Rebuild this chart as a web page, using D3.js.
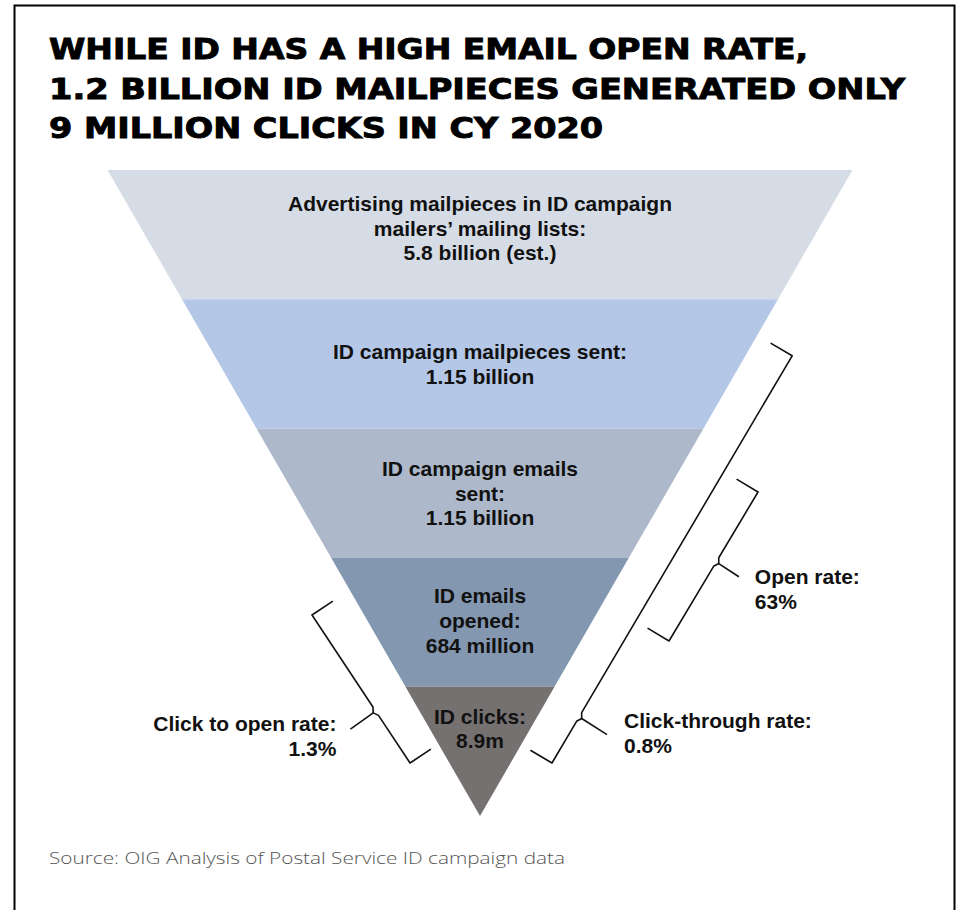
<!DOCTYPE html>
<html>
<head>
<meta charset="utf-8">
<script src="https://cdn.jsdelivr.net/npm/d3@7"></script>
<style>
  body { margin: 0; background: #fff; }
  svg { display: block; }
</style>
</head>
<body>
<svg id="chart" width="961" height="910"></svg>
<script>
// title lines
const titleLines = [
	"WHILE ID HAS A HIGH EMAIL OPEN RATE,",
	"1.2 BILLION ID MAILPIECES GENERATED ONLY",
	"9 MILLION CLICKS IN CY 2020"
];

// funnel stages, top to bottom
const stageNames = [
	["Advertising mailpieces in ID campaign", "mailers’ mailing lists:"],
	["ID campaign mailpieces sent:"],
	["ID campaign emails", "sent:"],
	["ID emails", "opened:"],
	["ID clicks:"]
];
const stageValues = ["5.8 billion (est.)", "1.15 billion", "1.15 billion", "684 million", "8.9m"];
const stageColors = ["#d6dce5", "#b4c7e7", "#adb9ca", "#8497b0", "#767171"];

// rates shown with braces: from stage -> to stage
const rateNames = ["Click-through rate:", "Open rate:", "Click to open rate:"];
const rateValues = ["0.8%", "63%", "1.3%"];
const rateFrom = [1, 2, 3];
const rateTo = [4, 3, 4];
const rateSide = ["right", "right", "left"];

const source = "Source: OIG Analysis of Postal Service ID campaign data";

const svg = d3.select("#chart");

// frame (bottom edge runs off the picture)
svg.append("rect")
	.attr("x", 14.5).attr("y", 5.5)
	.attr("width", 940).attr("height", 1000)
	.attr("fill", "none").attr("stroke", "#000").attr("stroke-width", 2);

// title
const titleWidths = [759, 856, 554];
svg.selectAll("text.title")
	.data(titleLines)
	.join("text")
	.attr("class", "title")
	.attr("x", 49)
	.attr("y", (d, i) => 59 + i * 39.5)
	.attr("textLength", (d, i) => titleWidths[i])
	.attr("lengthAdjust", "spacingAndGlyphs")
	.attr("font-family", "'DejaVu Sans', sans-serif")
	.attr("font-weight", "bold")
	.attr("font-size", 27.5)
	.attr("fill", "#000")
	.attr("stroke", "#000")
	.attr("stroke-width", 0.9)
	.text(d => d);

// funnel geometry
const cx = 480;
const y = d3.scaleBand().domain(d3.range(stageNames.length)).range([170, 816]);
const halfW = d3.scaleLinear().domain([170, 816]).range([372.5, 0]);
const mid = i => y(i) + y.bandwidth() / 2;
const edgeX = (yy, side) => side === "left" ? cx - halfW(yy) : cx + halfW(yy);

const line = d3.line();

svg.append("g")
	.selectAll("path")
	.data(stageNames)
	.join("path")
	.attr("d", (d, i) => {
		const y0 = y(i), y1 = y(i) + y.bandwidth();
		return line([[cx - halfW(y0), y0], [cx + halfW(y0), y0], [cx + halfW(y1), y1], [cx - halfW(y1), y1]]) + "Z";
	})
	.attr("fill", (d, i) => stageColors[i]);

// stage labels
const fontSize = 21;
const lineH = 24.8;
const labelShift = [-6.5, 0, 0, -1.5, -23];
const labels = svg.append("g")
	.attr("font-family", "'Liberation Sans', Arial, sans-serif")
	.attr("font-weight", "bold")
	.attr("font-size", fontSize)
	.attr("fill", "#111")
	.attr("text-anchor", "middle");

stageNames.forEach((names, i) => {
	const rows = names.concat([stageValues[i]]);
	const n = rows.length;
	// centre the block on the band, cap height ~15px
	const first = mid(i) + labelShift[i] + 7.5 - (n - 1) * lineH / 2;
	labels.selectAll(null)
		.data(rows)
		.join("text")
		.attr("x", cx)
		.attr("y", (d, k) => first + k * lineH)
		.text(d => d);
});

// braces
const braceStyle = [
	{dyTop: -8, dyBot: 11.6, offTop: 46.8, offBot: 41.4, cusp: 0.887, spur: 33, tx: 17, ty: -7},
	{dyTop: -1, dyBot: 18.8, offTop: 91.2, offBot: 88.1, cusp: 0.47, spur: 27, tx: 16, ty: 7},
	{dyTop: -7.2, dyBot: 11.6, offTop: 52.1, offBot: 39.4, cusp: 0.65, spur: 31, tx: 14, ty: 2}
];

function bracePoints(p0, p1, side, cusp, spur) {
	const L = Math.hypot(p1[0] - p0[0], p1[1] - p0[1]);
	const a = [(p1[0] - p0[0]) / L, (p1[1] - p0[1]) / L];
	const n = side === "left" ? [-a[1], a[0]] : [a[1], -a[0]];
	const at = (u, v) => [p0[0] + a[0] * u + n[0] * v, p0[1] + a[1] * u + n[1] * v];
	const hook = 25, gap = 5, uc = L * cusp;
	return {
		body: [at(0, -hook), at(0, 0), at(uc - gap, 0), at(uc, 3), at(uc + gap, 0), at(L, 0), at(L, -hook)],
		spur: [at(uc, 3), at(uc + 1, spur)],
		tip: at(uc + 1, spur)
	};
}

const braces = svg.append("g");
rateNames.forEach((name, i) => {
	const s = braceStyle[i], side = rateSide[i];
	const sgn = side === "left" ? -1 : 1;
	const yTop = mid(rateFrom[i]) + s.dyTop;
	const yBot = mid(rateTo[i]) + s.dyBot;
	const p0 = [edgeX(yTop, side) + sgn * s.offTop, yTop];
	const p1 = [edgeX(yBot, side) + sgn * s.offBot, yBot];
	const b = bracePoints(p0, p1, side, s.cusp, s.spur);

	braces.append("path")
		.attr("d", line(b.body))
		.attr("fill", "none").attr("stroke", "#111")
		.attr("stroke-width", 1.6).attr("stroke-linejoin", "round");
	braces.append("path")
		.attr("d", line(b.spur))
		.attr("fill", "none").attr("stroke", "#111").attr("stroke-width", 1.6);

	braces.selectAll(null)
		.data([name, rateValues[i]])
		.join("text")
		.attr("x", b.tip[0] + sgn * s.tx)
		.attr("y", (d, k) => b.tip[1] + s.ty + k * 25)
		.attr("text-anchor", side === "left" ? "end" : "start")
		.attr("font-family", "'Liberation Sans', Arial, sans-serif")
		.attr("font-weight", "bold")
		.attr("font-size", fontSize)
		.attr("fill", "#111")
		.text(d => d);
});

// source note
svg.append("text")
	.attr("x", 49).attr("y", 864)
	.attr("font-family", "'Open Sans', sans-serif")
	.attr("font-weight", 300)
	.attr("font-size", 16)
	.attr("textLength", 516)
	.attr("lengthAdjust", "spacingAndGlyphs")
	.attr("fill", "#555")
	.text(source);
</script>
</body>
</html>
